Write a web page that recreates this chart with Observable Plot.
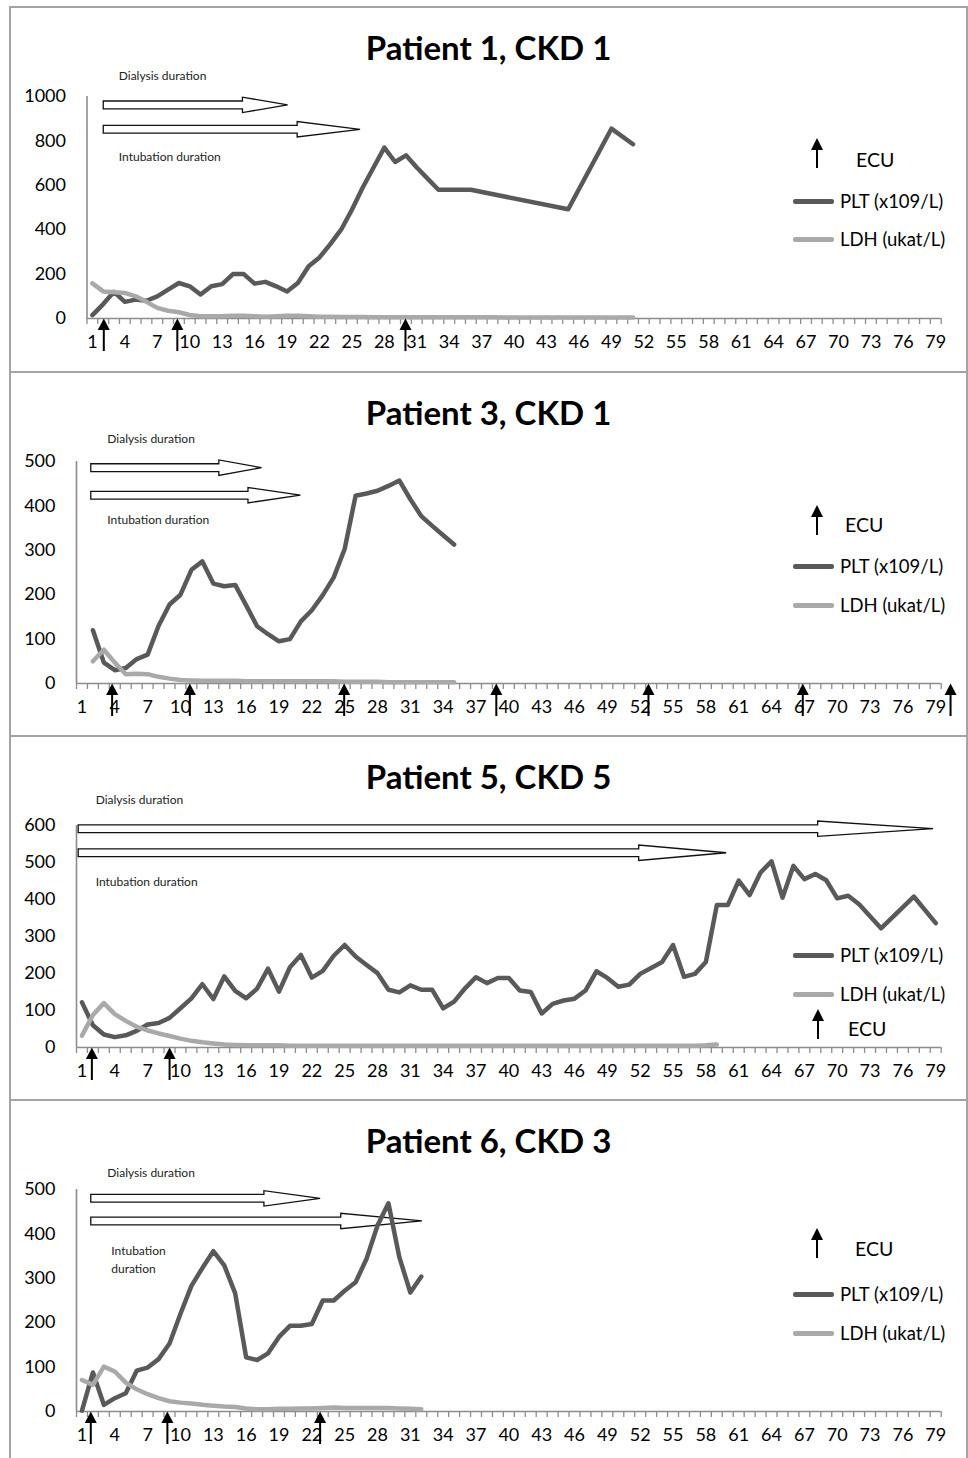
<!DOCTYPE html>
<html>
<head>
<meta charset="utf-8">
<script src="https://cdn.jsdelivr.net/npm/d3@7"></script>
<script src="https://cdn.jsdelivr.net/npm/@observablehq/plot@0.6"></script>
<style>
  html, body { margin: 0; padding: 0; background: #fff; }
  body { width: 968px; height: 1458px; overflow: hidden; position: relative; font-family: Lato, "Open Sans", sans-serif; }
  .panel { position: absolute; left: 9px; width: 959px; }
  .frame { position: absolute; left: 0; top: 0; right: 0; bottom: 0; border: 2px solid #a3a3a3; box-sizing: border-box; }
  .title { position: absolute; left: 0; right: 0; top: 21px; height: 40px; line-height: 40px; text-align: center; font-weight: 700; font-size: 33px; color: #000; }
  .chart { position: absolute; left: 0; top: 62px; }
  .leg-line { position: absolute; width: 41px; height: 5px; border-radius: 2px; }
  .leg-text { position: absolute; font-size: 18.5px; color: #000; line-height: 22px; white-space: nowrap; }
  .ecu-stem { position: absolute; width: 2px; background: #000; }
  .ecu-head { position: absolute; width: 0; height: 0; border-left: 6px solid transparent; border-right: 6px solid transparent; border-bottom: 12px solid #000; }
</style>
</head>
<body>
<script>
// ---------------- DATA ----------------
const xTickLabels = [1,4,7,10,13,16,19,22,25,28,31,34,37,40,43,46,49,52,55,58,61,64,67,70,73,76,79];

// Patient 1, CKD 1
const p1Title = "Patient 1, CKD 1";
const p1YTicks = [0,200,400,600,800,1000];
const p1PltDays = [1,2,3,4,5,6,7,8,9,10,11,12,13,14,15,16,17,18,19,20,21,22,23,24,25,26,27,28,29,30,31,32,33,34,35,36,45,49,51];
const p1Plt     = [15,65,120,75,85,80,100,130,160,145,108,145,155,200,200,157,165,145,122,160,235,275,335,400,490,590,680,770,705,735,680,630,580,580,580,580,492,855,785];
const p1LdhDays = [1,2,3,4,5,6,7,8,9,10,11,12,13,14,15,16,17,18,19,20,21,22,23,24,25,26,27,28,29,30,31,32,33,34,35,36,37,38,39,40,41,42,43,44,45,46,47,48,49,50,51];
const p1Ldh     = [158,122,118,115,100,75,48,35,28,16,10,10,10,12,12,10,8,10,12,12,10,8,8,7,7,7,6,6,6,6,6,6,6,6,6,6,6,6,5,5,5,5,5,5,5,5,5,5,5,5,5];
const p1Ecu = [2.1, 8.9, 30.0];
const p1Dialysis = {start: 2.05, end: 19.1, value: 960};
const p1Intubation = {start: 2.05, end: 25.8, value: 850};

// Patient 3, CKD 1
const p3Title = "Patient 3, CKD 1";
const p3YTicks = [0,100,200,300,400,500];
const p3PltDays = [2,3,4,5,6,7,8,9,10,11,12,13,14,15,16,17,18,19,20,21,22,23,24,25,26,27,28,29,30,31,32,33,34,35];
const p3Plt     = [120,47,30,35,55,65,130,178,200,256,275,225,219,222,176,129,111,95,100,140,165,199,239,303,423,428,434,445,457,415,377,355,334,313];
const p3LdhDays = [2,3,4,5,6,7,8,9,10,11,12,13,14,15,16,17,18,19,20,21,22,23,24,25,26,27,28,29,30,31,32,33,34,35];
const p3Ldh     = [50,76,47,21,22,21,15,11,8,7,6,6,6,6,5,5,5,5,5,5,5,5,5,4,4,4,4,3,3,3,3,3,3,3];
const p3Ecu = [3.8, 10.9, 25.0, 38.9, 52.8, 66.9, 80.4];
const p3Dialysis = {start: 1.85, end: 17.45, value: 485};
const p3Intubation = {start: 1.85, end: 21.0, value: 423};

// Patient 5, CKD 5
const p5Title = "Patient 5, CKD 5";
const p5YTicks = [0,100,200,300,400,500,600];
const p5PltDays = [1,2,3,4,5,6,7,8,9,10,11,12,13,14,15,16,17,18,19,20,21,22,23,24,25,26,27,28,29,30,31,32,33,34,35,36,37,38,39,40,41,42,43,44,45,46,47,48,49,50,51,52,53,54,55,56,57,58,59,60,61,62,63,64,65,66,67,68,69,70,71,72,74,77,79];
const p5Plt     = [122,60,35,28,33,45,62,66,80,106,133,171,131,192,153,133,159,213,151,217,250,189,207,248,277,246,223,201,156,149,168,156,156,106,124,160,190,174,188,188,154,150,92,118,127,132,154,206,188,164,170,199,215,231,277,191,199,231,385,385,451,412,473,503,405,491,455,469,452,403,410,387,322,408,336];
const p5LdhDays = [1,2,3,4,5,6,7,8,9,10,11,12,13,14,15,16,17,18,19,20,21,22,23,24,25,26,27,28,29,30,31,32,33,34,35,36,37,38,39,40,41,42,43,44,45,46,47,48,49,50,51,52,53,54,55,56,57,58,59];
const p5Ldh     = [32,88,120,90,72,56,46,38,31,24,18,14,11,8,7,6,6,6,6,5,5,5,5,5,5,5,5,5,5,5,5,5,5,5,5,5,5,5,5,5,5,5,5,5,5,5,5,5,5,5,5,5,5,5,5,5,5,6,8];
const p5Ecu = [1.95, 9.05];
const p5Dialysis = {start: 0.7, end: 78.8, value: 590};
const p5Intubation = {start: 0.7, end: 59.9, value: 525};

// Patient 6, CKD 3
const p6Title = "Patient 6, CKD 3";
const p6YTicks = [0,100,200,300,400,500];
const p6PltDays = [1,2,3,4,5,6,7,8,9,10,11,12,13,14,15,16,17,18,19,20,21,22,23,24,25,26,27,28,29,30,31,32];
const p6Plt     = [2,88,15,30,41,92,99,118,153,220,283,323,361,329,266,122,116,131,168,193,193,197,250,250,272,291,344,419,469,347,268,304];
const p6LdhDays = [1,2,3,4,5,6,7,8,9,10,11,12,13,14,15,16,17,18,19,20,21,22,23,24,25,26,27,28,29,30,31,32];
const p6Ldh     = [71,60,101,90,65,50,39,30,23,20,18,15,13,11,10,7,5,5,6,6,7,7,8,9,8,8,8,8,8,7,6,5];
const p6Ecu = [1.85, 8.85, 22.8];
const p6Dialysis = {start: 1.85, end: 22.8, value: 479};
const p6Intubation = {start: 1.85, end: 32.1, value: 428};

const seriesNames = ["PLT (x109/L)", "LDH (ukat/L)"];
const ecuLabel = "ECU";
const dialysisLabel = "Dialysis duration";
const intubationLabel = "Intubation duration";
const intubationLabel2 = "Intubation\nduration";

// ---------------- STYLE / LAYOUT ----------------
const PLT_COLOR = "#595959";
const LDH_COLOR = "#a9a9a9";
const AXIS_COLOR = "#8c8c8c";

const panels = [
  {title: p1Title, top: 6, height: 367, ymax: 1000, yTicks: p1YTicks,
   pltDays: p1PltDays, plt: p1Plt, ldhDays: p1LdhDays, ldh: p1Ldh, ecu: p1Ecu,
   dial: p1Dialysis, intub: p1Intubation, intubText: intubationLabel,
   marginLeft: 77.5, headFrac: 0.245, dialDx: 15, dialDy: -29, intDx: 15, intDy: 25,
   leg: {ecuX: 808, ecuTop: 132, ecuBot: 162, ecuTextX: 847, ecuTextY: 154, pltY: 195, ldhY: 233}},
  {title: p3Title, top: 371, height: 366, ymax: 500, yTicks: p3YTicks,
   pltDays: p3PltDays, plt: p3Plt, ldhDays: p3LdhDays, ldh: p3Ldh, ecu: p3Ecu,
   dial: p3Dialysis, intub: p3Intubation, intubText: intubationLabel,
   marginLeft: 67, headFrac: 0.25, dialDx: 16, dialDy: -29, intDx: 16, intDy: 23,
   leg: {ecuX: 808, ecuTop: 134, ecuBot: 164, ecuTextX: 836, ecuTextY: 154, pltY: 195, ldhY: 234}},
  {title: p5Title, top: 735, height: 366, ymax: 600, yTicks: p5YTicks,
   pltDays: p5PltDays, plt: p5Plt, ldhDays: p5LdhDays, ldh: p5Ldh, ecu: p5Ecu,
   dial: p5Dialysis, intub: p5Intubation, intubText: intubationLabel,
   marginLeft: 67, headFrac: 0.135, dialDx: 17, dialDy: -29, intDx: 17, intDy: 27,
   leg: {ecuX: 809, ecuTop: 274, ecuBot: 304, ecuTextX: 839, ecuTextY: 294, pltY: 220, ldhY: 259}},
  {title: p6Title, top: 1099, height: 362, ymax: 500, yTicks: p6YTicks,
   pltDays: p6PltDays, plt: p6Plt, ldhDays: p6LdhDays, ldh: p6Ldh, ecu: p6Ecu,
   dial: p6Dialysis, intub: p6Intubation, intubText: intubationLabel2,
   marginLeft: 67, headFrac: 0.245, dialDx: 16, dialDy: -26, intDx: 20, intDy: 37,
   leg: {ecuX: 808, ecuTop: 129, ecuBot: 159, ecuTextX: 846, ecuTextY: 150, pltY: 195, ldhY: 234}}
];

const SVG_W = 959, SVG_H = 300, M_TOP = 28, M_BOTTOM = 50, M_RIGHT = 27.3;

function pairs(days, vals) { return days.map((d, i) => ({day: d, v: vals[i]})); }

function blockArrowMark(arrows, headFrac) {
  return (index, scales) => {
    const g = d3.create("svg:g");
    for (const a of arrows) {
      const x0 = scales.x(a.start), x1 = scales.x(a.end), y = scales.y(a.value);
      const xh = x1 - (x1 - x0) * headFrac;
      const bh = 3.9, hh = 7.7;
      const pts = [[x0, y - bh], [xh, y - bh], [xh, y - hh], [x1, y], [xh, y + hh], [xh, y + bh], [x0, y + bh]];
      g.append("path")
        .attr("d", "M" + pts.map(p => p.join(",")).join("L") + "Z")
        .attr("fill", "#fff").attr("stroke", "#111").attr("stroke-width", 1.3)
        .attr("stroke-linejoin", "miter");
    }
    return g.node();
  };
}

function ecuMark(xs) {
  return (index, scales) => {
    const g = d3.create("svg:g");
    const y0 = scales.y(0);
    for (const x of xs) {
      const px = scales.x(x);
      g.append("line").attr("x1", px).attr("x2", px).attr("y1", y0 + 33).attr("y2", y0 + 8)
        .attr("stroke", "#000").attr("stroke-width", 2);
      g.append("path").attr("d", `M${px},${y0 + 0.5}L${px - 6},${y0 + 12}L${px + 6},${y0 + 12}Z`).attr("fill", "#000");
    }
    return g.node();
  };
}

for (const p of panels) {
  const panel = document.createElement("div");
  panel.className = "panel";
  panel.style.top = p.top + "px";
  panel.style.height = p.height + "px";
  document.body.appendChild(panel);

  const frame = document.createElement("div");
  frame.className = "frame";
  panel.appendChild(frame);

  const title = document.createElement("div");
  title.className = "title";
  title.textContent = p.title;
  panel.appendChild(title);

  const halfTicks = d3.range(0.5, 80, 1);
  const chart = Plot.plot({
    width: SVG_W, height: SVG_H,
    marginLeft: p.marginLeft, marginRight: M_RIGHT, marginTop: M_TOP, marginBottom: M_BOTTOM,
    style: {fontFamily: "Lato, 'Open Sans', sans-serif", fontSize: "18px", color: "#000", background: "transparent", overflow: "visible"},
    x: {type: "linear", domain: [0.5, 79.5], axis: null},
    y: {type: "linear", domain: [0, p.ymax], axis: null},
    marks: [
      Plot.ruleX([0.5], {y1: 0, y2: p.ymax, stroke: AXIS_COLOR, strokeWidth: 1.6}),
      Plot.ruleY([0], {stroke: AXIS_COLOR, strokeWidth: 1.6}),
      Plot.axisX({ticks: halfTicks, tickSize: 6, tickFormat: () => "", stroke: AXIS_COLOR, strokeWidth: 1.3}),
      Plot.axisX({ticks: xTickLabels, tickSize: 0, tickPadding: 17, tickFormat: d => String(d), fontSize: 18, fill: "#000"}),
      Plot.axisY({ticks: p.yTicks, tickSize: 0, tickPadding: 21, tickFormat: d => String(d), fontSize: 18, fill: "#000"}),
      blockArrowMark([p.dial, p.intub], p.headFrac),
      Plot.text([p.dial], {x: "start", y: "value", text: () => dialysisLabel, dx: p.dialDx, dy: p.dialDy, textAnchor: "start", fontSize: 12, fill: "#222"}),
      Plot.text([p.intub], {x: "start", y: "value", text: () => p.intubText, dx: p.intDx, dy: p.intDy, textAnchor: "start", fontSize: 12, fill: "#222", lineHeight: 1.5}),
      Plot.line(pairs(p.pltDays, p.plt), {x: "day", y: "v", stroke: PLT_COLOR, strokeWidth: 4.5, strokeLinejoin: "round", strokeLinecap: "round"}),
      Plot.line(pairs(p.ldhDays, p.ldh), {x: "day", y: "v", stroke: LDH_COLOR, strokeWidth: 4.5, strokeLinejoin: "round", strokeLinecap: "round"}),
      ecuMark(p.ecu)
    ]
  });
  chart.classList.add("chart");
  panel.appendChild(chart);

  // legend
  const L = p.leg;
  const stem = document.createElement("div");
  stem.className = "ecu-stem";
  stem.style.left = (L.ecuX - 1) + "px";
  stem.style.top = (L.ecuTop + 8) + "px";
  stem.style.height = (L.ecuBot - L.ecuTop - 8) + "px";
  panel.appendChild(stem);
  const head = document.createElement("div");
  head.className = "ecu-head";
  head.style.left = (L.ecuX - 6) + "px";
  head.style.top = L.ecuTop + "px";
  panel.appendChild(head);
  const ecuT = document.createElement("div");
  ecuT.className = "leg-text";
  ecuT.style.left = L.ecuTextX + "px";
  ecuT.style.top = (L.ecuTextY - 11) + "px";
  ecuT.style.fontSize = "19.5px";
  ecuT.textContent = ecuLabel;
  panel.appendChild(ecuT);

  [[L.pltY, PLT_COLOR, seriesNames[0]], [L.ldhY, LDH_COLOR, seriesNames[1]]].forEach(([y, c, name]) => {
    const line = document.createElement("div");
    line.className = "leg-line";
    line.style.left = "784px";
    line.style.top = (y - 2.5) + "px";
    line.style.background = c;
    panel.appendChild(line);
    const t = document.createElement("div");
    t.className = "leg-text";
    t.style.left = "831px";
    t.style.top = (y - 11) + "px";
    t.textContent = name;
    panel.appendChild(t);
  });
}
</script>
</body>
</html>
